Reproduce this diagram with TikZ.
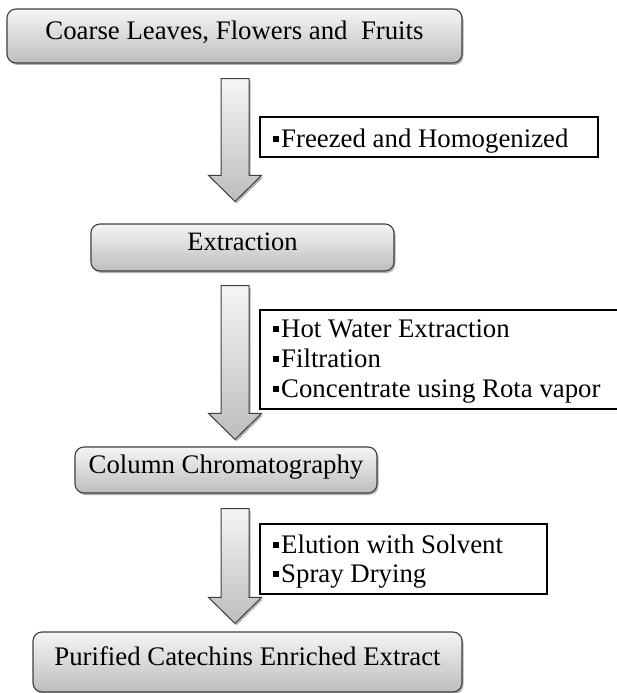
\documentclass[tikz,border=0pt]{standalone}
\usepackage{fontspec}
\setmainfont{Liberation Serif}
\usetikzlibrary{shadows,calc}
\definecolor{boxedge}{HTML}{3F3F3F}
\definecolor{boxtop}{HTML}{F5F5F5}
\definecolor{boxbot}{HTML}{BDBDBD}
\newcommand\bul{\rule[5pt]{6pt}{6pt}\hspace{2pt}}
\begin{document}
\begin{tikzpicture}[x=1pt,y=-1pt,
  stage/.style={draw=boxedge, line width=1.1pt, rounded corners=9pt,
    top color=boxtop, bottom color=boxbot, inner sep=0pt,
    text height=0.662em, text depth=0pt,
    drop shadow={shadow xshift=1.5pt, shadow yshift=-2pt, opacity=0.3, fill=black}},
  note/.style={draw=black, line width=1.8pt, fill=white, inner sep=0pt, anchor=north west},
  notetext/.style={anchor=base west, inner sep=0pt, font=\fontsize{26.8}{30}\selectfont},
  blockarrow/.style={draw=boxedge, line width=1pt, top color=boxtop, bottom color=boxbot,
    drop shadow={shadow xshift=1.5pt, shadow yshift=-2pt, opacity=0.3, fill=black}}
]
\useasboundingbox (0,0) rectangle (617,693);

% stage boxes
\node[stage, minimum width=455pt, minimum height=54pt, font=\fontsize{26.8}{30}\selectfont]
  (b1) at (234.5,36) {Coarse Leaves, Flowers and \ Fruits};
\node[stage, minimum width=303pt, minimum height=47pt, font=\fontsize{26.5}{30}\selectfont]
  (b2) at (242.5,247.5) {Extraction};
\node[stage, minimum width=302pt, minimum height=46pt, font=\fontsize{26.8}{30}\selectfont]
  (b3) at (226,470) {Column Chromatography};
\node[stage, minimum width=429pt, minimum height=60pt, font=\fontsize{26.8}{30}\selectfont]
  (b4) at (247.5,662) {Purified Catechins Enriched Extract};

% arrow end points
\path (b1.south) ++(0.5,15) coordinate (a1s);
\path (b2.north) ++(-7.5,-22) coordinate (a1t);
\path (b2.south) ++(-7.5,14) coordinate (a2s);
\path (b3.north) ++(9,-7) coordinate (a2t);
\path (b3.south) ++(9,15) coordinate (a3s);
\path (b4.north) ++(-12.5,-8) coordinate (a3t);

\foreach \s/\t in {a1s/a1t, a2s/a2t, a3s/a3t}{
  \draw[blockarrow] ($(\s)+(-14,0)$) -- ($(\s)+(14,0)$) -- ($(\t)+(14,-26)$)
    -- ($(\t)+(26.5,-26)$) -- (\t) -- ($(\t)+(-26.5,-26)$) -- ($(\t)+(-14,-26)$) -- cycle;
}

% notes
\node[note, minimum width=338pt, minimum height=40pt] (n1) at (259,116) {};
\node[notetext] (n1a) at (273,147) {\bul Freezed and Homogenized};

\node[note, minimum width=366pt, minimum height=99pt] (n2) at (259,309) {};
\node[notetext] (n2a) at (273,337) {\bul Hot Water Extraction};
\node[notetext] (n2b) at (273,367) {\bul Filtration};
\node[notetext] (n2c) at (273,397) {\bul Concentrate using Rota vapor};

\node[note, minimum width=287pt, minimum height=70pt] (n3) at (259,523) {};
\node[notetext] (n3a) at (273,553) {\bul Elution with Solvent};
\node[notetext] (n3b) at (273,582) {\bul Spray Drying};
\end{tikzpicture}
\end{document}
